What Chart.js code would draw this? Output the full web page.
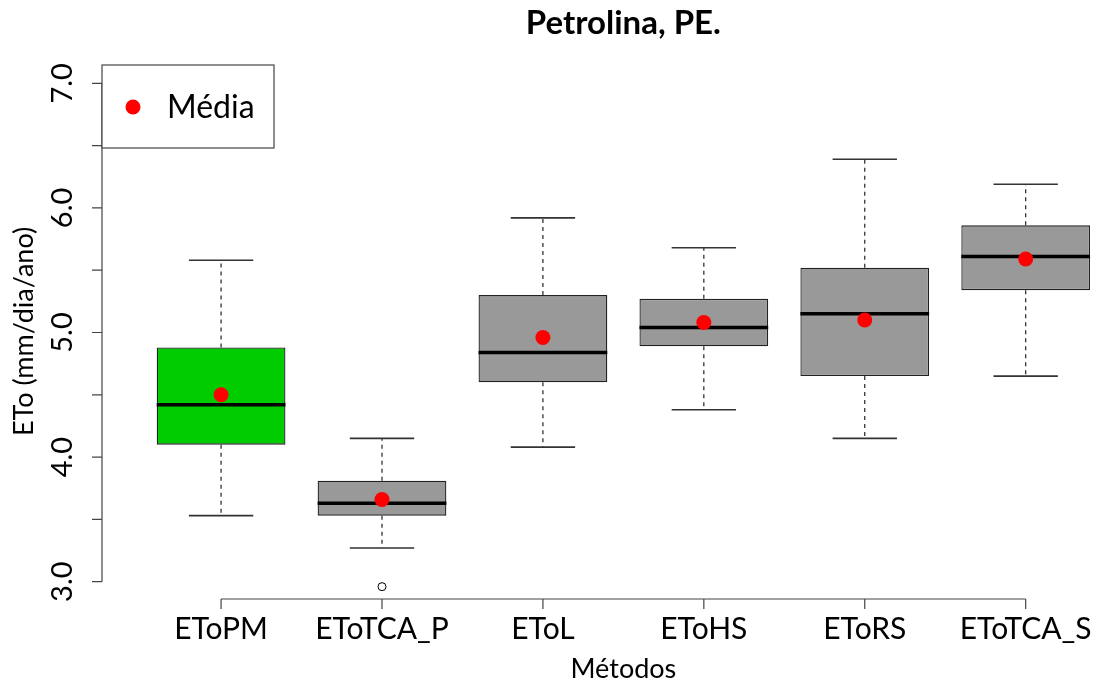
<!DOCTYPE html>
<html>
<head>
<meta charset="utf-8">
<script src="https://cdn.jsdelivr.net/npm/chart.js@4"></script>
<style>
  html, body { margin: 0; padding: 0; background: #fff; overflow: hidden; }
  canvas { display: block; }
</style>
</head>
<body>
<canvas id="grafico" width="1096" height="682"></canvas>
<script>
const METODOS  = ["EToPM", "EToTCA_P", "EToL", "EToHS", "EToRS", "EToTCA_S"];
const LIM_INF  = [3.53, 3.27, 4.08, 4.38, 4.15, 4.65];
const Q1       = [4.10, 3.53, 4.60, 4.89, 4.65, 5.34];
const MEDIANA  = [4.42, 3.63, 4.84, 5.04, 5.15, 5.61];
const Q3       = [4.88, 3.81, 5.30, 5.27, 5.52, 5.86];
const LIM_SUP  = [5.58, 4.15, 5.92, 5.68, 6.39, 6.19];
const MEDIA    = [4.50, 3.66, 4.96, 5.08, 5.10, 5.59];
const OUT_X    = [2];
const OUT_Y    = [2.96];

const Y_TICKS  = [3, 3.5, 4, 4.5, 5, 5.5, 6, 6.5, 7];
const Y_LABELS = ["3.0", "", "4.0", "", "5.0", "", "6.0", "", "7.0"];

const CORES = ["#00CC00", "#999999", "#999999", "#999999", "#999999", "#999999"];

const FONTE = "Lato, 'Open Sans', sans-serif";

const $ = (id) => document.getElementById(id);

// ==============================
// PLUGIN: bigodes, medianas, eixos, textos
// ==============================
const boxPlugin = {
  id: "boxExtras",
  afterDatasetDraw(chart, args){
    if (args.index !== 0) return;
    const ctx = chart.ctx;
    const x = chart.scales.x;
    const y = chart.scales.y;
    const meta = chart.getDatasetMeta(0);

    ctx.save();
    meta.data.forEach((bar, i) => {
      const cx = x.getPixelForValue(i + 1);
      const w = bar.width;
      const yq1 = y.getPixelForValue(Q1[i]);
      const yq3 = y.getPixelForValue(Q3[i]);
      const yInf = y.getPixelForValue(LIM_INF[i]);
      const ySup = y.getPixelForValue(LIM_SUP[i]);
      const yMed = y.getPixelForValue(MEDIANA[i]);

      // bigodes tracejados
      ctx.strokeStyle = "#222";
      ctx.lineWidth = 1.2;
      ctx.setLineDash([4, 4]);
      ctx.beginPath();
      ctx.moveTo(cx, yq3); ctx.lineTo(cx, ySup);
      ctx.moveTo(cx, yq1); ctx.lineTo(cx, yInf);
      ctx.stroke();

      // hastes
      ctx.setLineDash([]);
      ctx.strokeStyle = "#333";
      ctx.lineWidth = 1.6;
      ctx.beginPath();
      ctx.moveTo(cx - w / 4, ySup); ctx.lineTo(cx + w / 4, ySup);
      ctx.moveTo(cx - w / 4, yInf); ctx.lineTo(cx + w / 4, yInf);
      ctx.stroke();

      // mediana
      ctx.strokeStyle = "#000";
      ctx.lineWidth = 3.5;
      ctx.beginPath();
      ctx.moveTo(cx - w / 2, yMed); ctx.lineTo(cx + w / 2, yMed);
      ctx.stroke();
    });
    ctx.restore();
  },
  afterDraw(chart){
    const ctx = chart.ctx;
    const x = chart.scales.x;
    const y = chart.scales.y;
    const area = chart.chartArea;

    ctx.save();
    ctx.strokeStyle = "#444";
    ctx.lineWidth = 1.2;
    ctx.fillStyle = "#000";

    // eixo y
    const yTop = y.getPixelForValue(Y_TICKS[Y_TICKS.length - 1]);
    const yBot = y.getPixelForValue(Y_TICKS[0]);
    ctx.beginPath();
    ctx.moveTo(area.left, yTop); ctx.lineTo(area.left, yBot);
    Y_TICKS.forEach(t => {
      const py = y.getPixelForValue(t);
      ctx.moveTo(area.left - 10, py); ctx.lineTo(area.left, py);
    });
    ctx.stroke();

    ctx.font = "29px " + FONTE;
    ctx.textAlign = "center";
    ctx.textBaseline = "alphabetic";
    Y_TICKS.forEach((t, i) => {
      if (!Y_LABELS[i]) return;
      const py = y.getPixelForValue(t);
      ctx.save();
      ctx.translate(area.left - 30, py);
      ctx.rotate(-Math.PI / 2);
      ctx.fillText(Y_LABELS[i], 0, 0);
      ctx.restore();
    });

    // eixo x
    const xL = x.getPixelForValue(1);
    const xR = x.getPixelForValue(METODOS.length);
    ctx.beginPath();
    ctx.moveTo(xL, area.bottom); ctx.lineTo(xR, area.bottom);
    METODOS.forEach((m, i) => {
      const px = x.getPixelForValue(i + 1);
      ctx.moveTo(px, area.bottom); ctx.lineTo(px, area.bottom + 10);
    });
    ctx.stroke();

    ctx.font = "30px " + FONTE;
    METODOS.forEach((m, i) => {
      ctx.fillText(m, x.getPixelForValue(i + 1), 639);
    });

    // titulos (centralizados na regiao do grafico)
    const cMeio = x.getPixelForValue(3.5);
    ctx.font = "27px " + FONTE;
    ctx.fillText("Métodos", cMeio, 678);

    ctx.font = "bold 33px " + FONTE;
    ctx.fillText("Petrolina, PE.", cMeio, 34);

    ctx.font = "27px " + FONTE;
    ctx.save();
    ctx.translate(33, (area.top + area.bottom) / 2);
    ctx.rotate(-Math.PI / 2);
    ctx.fillText("ETo (mm/dia/ano)", 0, 0);
    ctx.restore();

    // legenda
    const lx = area.left, ly = area.top + 1, lw = 172, lh = 83;
    ctx.fillStyle = "#fff";
    ctx.fillRect(lx, ly, lw, lh);
    ctx.strokeStyle = "#444";
    ctx.lineWidth = 1.2;
    ctx.strokeRect(lx, ly, lw, lh);
    ctx.fillStyle = "#FF0000";
    ctx.beginPath();
    ctx.arc(lx + 31, ly + 42, 7.5, 0, Math.PI * 2);
    ctx.fill();
    ctx.fillStyle = "#000";
    ctx.textAlign = "left";
    ctx.font = "32px " + FONTE;
    ctx.fillText("Média", lx + 65, ly + 53);

    ctx.restore();
  }
};

// ==============================
// GRAFICO
// ==============================
new Chart($("grafico"), {
  type: "bar",
  data: {
    datasets: [
      {
        type: "bar",
        label: "caixa",
        data: METODOS.map((m, i) => ({ x: i + 1, y: [Q1[i], Q3[i]] })),
        backgroundColor: CORES,
        borderColor: "#222",
        borderWidth: 1.3,
        borderSkipped: false,
        barPercentage: 0.8,
        categoryPercentage: 1,
        order: 2
      },
      {
        type: "scatter",
        label: "outlier",
        data: OUT_X.map((v, i) => ({ x: v, y: OUT_Y[i] })),
        pointRadius: 4,
        pointBackgroundColor: "#fff",
        pointBorderColor: "#000",
        pointBorderWidth: 1,
        order: 1
      },
      {
        type: "scatter",
        label: "Média",
        data: MEDIA.map((v, i) => ({ x: i + 1, y: v })),
        pointRadius: 7.5,
        pointBackgroundColor: "#FF0000",
        pointBorderWidth: 0,
        order: 0
      }
    ]
  },
  options: {
    responsive: false,
    devicePixelRatio: 1,
    animation: false,
    layout: { autoPadding: false, padding: { left: 102, right: 0, top: 64, bottom: 83 } },
    plugins: {
      legend: { display: false },
      tooltip: { enabled: false },
      title: { display: false }
    },
    scales: {
      x: {
        type: "linear", min: 0.26, max: 6.437, offset: false, display: false,
        afterBuildTicks: (s) => { s.ticks = METODOS.map((m, i) => ({ value: i + 1 })); }
      },
      y: { type: "linear", min: 2.861, max: 7.155, display: false }
    }
  },
  plugins: [boxPlugin]
});
</script>
</body>
</html>
